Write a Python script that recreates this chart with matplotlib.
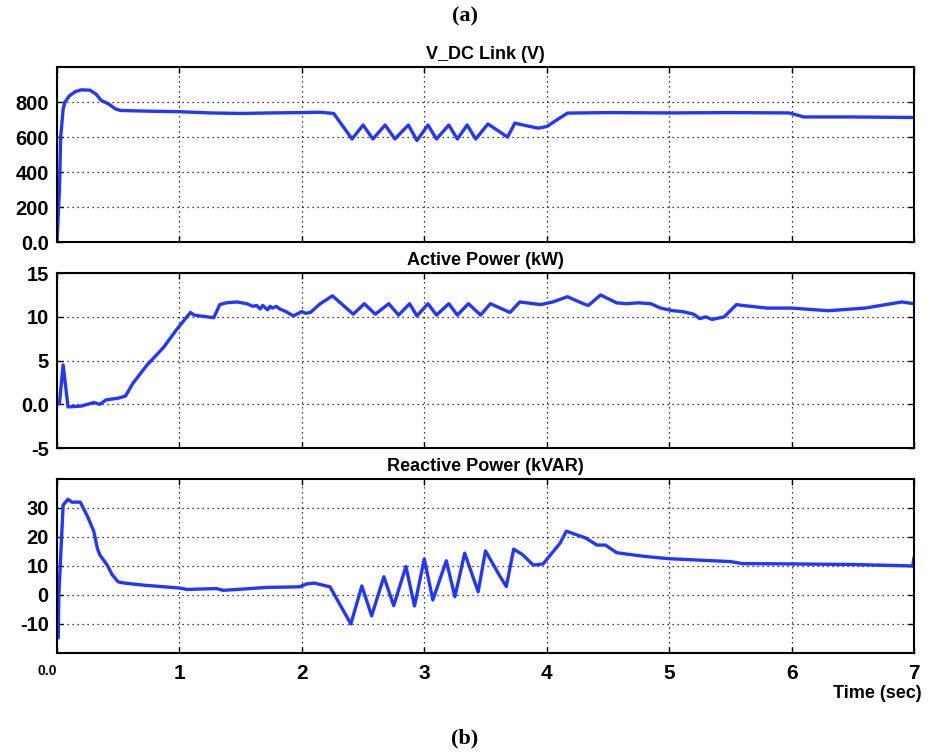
import matplotlib
matplotlib.use("Agg")
import matplotlib.pyplot as plt

# V_DC link voltage (V)
t_vdc = [0, 0.02, 0.03, 0.05, 0.065, 0.1, 0.15, 0.2, 0.27, 0.32, 0.36, 0.42, 0.48,
         0.52, 0.75, 1.0, 1.25, 1.5, 1.75, 2.0, 2.15, 2.26, 2.41, 2.5, 2.58, 2.68,
         2.76, 2.87, 2.94, 3.03, 3.10, 3.2, 3.27, 3.35, 3.42, 3.52, 3.68, 3.74, 3.8,
         3.93, 4.0, 4.08, 4.17, 4.5, 5.0, 5.5, 5.98, 6.05, 6.1, 6.5, 7.0]
v_vdc = [0, 300, 600, 760, 800, 835, 860, 870, 868, 845, 810, 790, 760,
         752, 748, 745, 738, 735, 738, 740, 742, 735, 589, 669, 589, 669,
         589, 669, 580, 669, 589, 669, 589, 669, 589, 675, 600, 680, 670,
         651, 660, 697, 737, 740, 738, 740, 738, 725, 715, 715, 712]

# active power (kW)
t_p = [0, 0.02, 0.05, 0.09, 0.2, 0.3, 0.35, 0.4, 0.5, 0.56, 0.62, 0.73, 0.87, 0.98,
       1.09, 1.12, 1.17, 1.28, 1.33, 1.38, 1.47, 1.55, 1.6, 1.63, 1.66, 1.68, 1.72,
       1.74, 1.76, 1.79, 1.82, 1.87, 1.93, 2.0, 2.03, 2.07, 2.15, 2.25, 2.42, 2.51,
       2.6, 2.71, 2.79, 2.88, 2.94, 3.03, 3.1, 3.2, 3.27, 3.36, 3.46, 3.54, 3.7,
       3.78, 3.95, 4.05, 4.17, 4.25, 4.3, 4.34, 4.44, 4.57, 4.65, 4.75, 4.85, 4.93,
       5.03, 5.11, 5.2, 5.25, 5.3, 5.35, 5.45, 5.55, 5.6, 5.8, 6.0, 6.3, 6.6, 6.9, 7.0]
v_p = [0, 0.1, 4.5, -0.3, -0.2, 0.2, 0.0, 0.5, 0.7, 0.95, 2.4, 4.4, 6.5, 8.6,
       10.5, 10.2, 10.1, 9.9, 11.4, 11.6, 11.7, 11.5, 11.2, 11.3, 10.9, 11.3, 10.8,
       11.2, 11.0, 11.2, 10.9, 10.6, 10.1, 10.6, 10.4, 10.5, 11.5, 12.4, 10.3, 11.5,
       10.3, 11.5, 10.2, 11.5, 10.1, 11.5, 10.2, 11.5, 10.2, 11.5, 10.2, 11.5, 10.5,
       11.7, 11.4, 11.7, 12.3, 11.8, 11.5, 11.3, 12.5, 11.6, 11.5, 11.6, 11.5, 11.0,
       10.7, 10.6, 10.3, 9.8, 10.0, 9.7, 10.0, 11.4, 11.3, 11.0, 11.0, 10.7, 11.0, 11.7, 11.5]

# reactive power (kVAR)
t_q = [0, 0.01, 0.015, 0.05, 0.09, 0.12, 0.19, 0.25, 0.3, 0.33, 0.35, 0.41, 0.45,
       0.5, 0.55, 0.7, 1.0, 1.06, 1.3, 1.36, 1.58, 1.71, 1.98, 2.04, 2.1, 2.23, 2.4,
       2.49, 2.57, 2.67, 2.75, 2.85, 2.92, 3.0, 3.07, 3.18, 3.25, 3.33, 3.44, 3.5,
       3.62, 3.67, 3.73, 3.8, 3.89, 3.97, 4.11, 4.16, 4.32, 4.41, 4.48, 4.57, 4.65,
       4.82, 5.0, 5.5, 5.6, 6.0, 6.5, 6.99, 7.0]
v_q = [0, -14.8, 0, 31, 33, 32, 32, 27, 22, 16, 13.8, 10.3, 7,
       4.5, 4.1, 3.4, 2.4, 1.9, 2.2, 1.6, 2.2, 2.6, 2.8, 3.8, 4.1, 2.8, -10,
       3.1, -7.2, 6.3, -3.7, 9.8, -3.8, 12.4, -1.7, 11.8, -0.6, 14.4, 1.1, 15.2,
       6.3, 2.9, 15.8, 14, 10.3, 10.7, 17.9, 22, 19.6, 17.2, 17.2, 14.6, 14.1,
       13.2, 12.5, 11.5, 10.8, 10.7, 10.5, 10.0, 13]

titles = ["V_DC Link (V)", "Active Power (kW)", "Reactive Power (kVAR)"]
yticks = [[0, 200, 400, 600, 800], [-5, 0, 5, 10, 15], [-10, 0, 10, 20, 30]]
ylabels = [["0.0", "200", "400", "600", "800"], ["-5", "0.0", "5", "10", "15"],
           ["-10", "0", "10", "20", "30"]]
ylims = [(0, 1000), (-5, 15), (-20, 40)]
xticks = [0, 1, 2, 3, 4, 5, 6, 7]
xlabels = ["0.0", "1", "2", "3", "4", "5", "6", "7"]

plt.rcParams['font.family'] = ['Liberation Sans', 'DejaVu Sans']
plt.rcParams['font.weight'] = 'bold'

fig = plt.figure(figsize=(9.3, 7.54), dpi=100)
boxes = [[0.0613, 0.679, 0.9215, 0.232],
         [0.0613, 0.4058, 0.9215, 0.232],
         [0.0613, 0.134, 0.9215, 0.2308]]
series = [(t_vdc, v_vdc), (t_p, v_p), (t_q, v_q)]

for i in range(3):
    ax = fig.add_axes(boxes[i])
    ax.plot(series[i][0], series[i][1], color='#2236ff', linewidth=2.4,
            solid_joinstyle='round', solid_capstyle='round')
    ax.set_xlim(0, 7)
    ax.set_ylim(*ylims[i])
    ax.set_yticks(yticks[i])
    ax.set_yticklabels(ylabels[i], fontsize=14.5, fontweight='bold')
    ax.set_xticks(xticks)
    ax.grid(True, color='black', linestyle=(0, (1, 3)), linewidth=0.9)
    ax.tick_params(direction='in', length=4, width=1, top=True, right=True, pad=6)
    for s in ax.spines.values():
        s.set_linewidth(1.5)
    ax.set_title(titles[i], fontsize=13, fontweight='bold', pad=6)
    if i < 2:
        ax.set_xticklabels([])
    else:
        ax.set_xticklabels(xlabels, fontsize=15, fontweight='bold')
        first = ax.get_xticklabels()[0]
        first.set_fontsize(10)
        first.set_horizontalalignment('right')
        ax.tick_params(axis='x', pad=8)

fig.text(0.991, 1 - 694 / 754, "Time (sec)", ha='right', va='center',
         fontsize=13, fontweight='bold')
fig.text(0.5, 1 - 16 / 754, "(a)", ha='center', va='center', fontsize=16,
         family='Liberation Serif', fontweight='bold')
fig.text(0.5, 1 - 738 / 754, "(b)", ha='center', va='center', fontsize=16,
         family='Liberation Serif', fontweight='bold')

fig.savefig("out.png", dpi=100)
